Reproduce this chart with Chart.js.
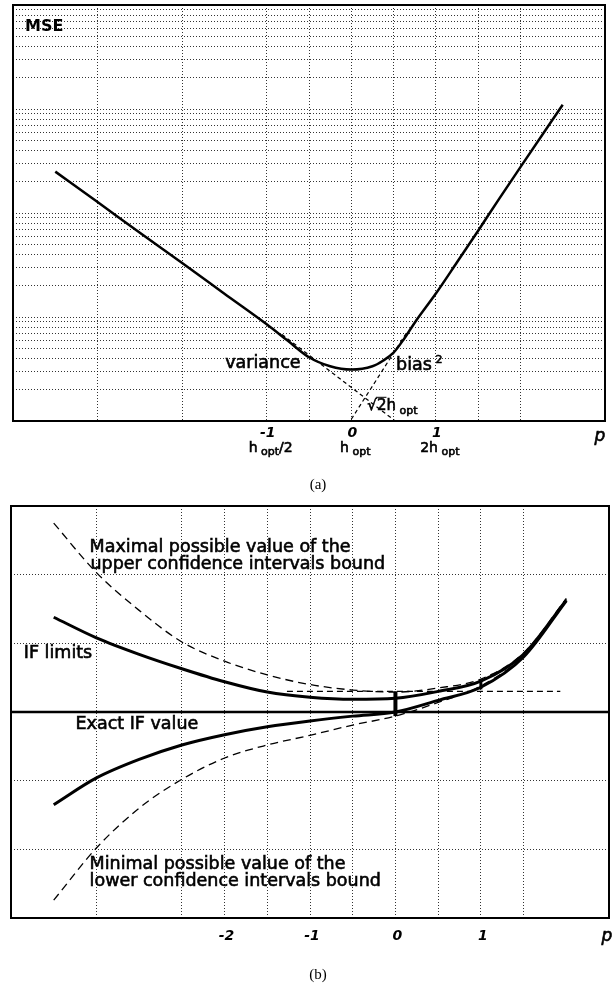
<!DOCTYPE html>
<html>
<head>
<meta charset="utf-8">
<script src="https://cdn.jsdelivr.net/npm/chart.js@4.4.0/dist/chart.umd.min.js"></script>
<style>
body { margin:0; background:#fff; width:613px; height:987px; position:relative; overflow:hidden; }
canvas { position:absolute; left:0; }
#chartA { top:0; }
#chartB { top:495px; }
</style>
</head>
<body>
<canvas id="chartA" width="613" height="495"></canvas>
<canvas id="chartB" width="613" height="492"></canvas>
<script>
// ---- data (a) : MSE against p = log2(h / h_opt), log scale ----
const mseP   = [-3.5, -3, -2.5, -2, -1.5, -1, -0.75, -0.5, -0.25, 0, 0.25, 0.375, 0.5, 0.625, 0.75, 1, 1.25, 1.5, 1.75, 2, 2.5];
const mseVal = [125, 63.7, 32.3, 16.5, 8.38, 4.26, 2.95, 2.05, 1.68, 1.56, 1.68, 1.90, 2.27, 3.09, 4.41, 8.4, 16.8, 33.8, 68.7, 138, 550];
const varP   = [-0.82, 0.52];
const varVal = [3.4, 0.5];
const biasP   = [0, 0.66];
const biasVal = [0.52, 3.6];
const xGridA = [-3, -2, -1, -0.5, 0, 0.5, 1, 1.5, 2];
const yGridA = [1, 1.5, 2, 2.5, 3, 3.5, 4, 4.5, 5, 10, 15, 20, 25, 30, 35, 40, 45, 50,
                100, 150, 200, 250, 300, 350, 400, 450, 500, 1000, 1500, 2000, 2500, 3000, 3500, 4000, 4500];
const tickA    = [-1, 0, 1];
const tickATop = ['-1', '0', '1'];
const tickABot = [['h', 'opt', '/2'], ['h', 'opt', ''], ['2h', 'opt', '']];

// ---- data (b) : IF estimate bounds ----
const bP       = [-4, -3.5, -3, -2.5, -2, -1.5, -1, -0.5, 0, 0.5, 1, 1.5, 2];
const ifUpper  = [1.38, 1.08, 0.84, 0.63, 0.44, 0.29, 0.215, 0.185, 0.20, 0.30, 0.45, 0.84, 1.63];
const maxUpper = [2.75, 2.03, 1.48, 1.02, 0.74, 0.54, 0.40, 0.32, 0.29, 0.35, 0.48, 0.86, 1.65];
const ifLower  = [-1.35, -0.96, -0.69, -0.48, -0.33, -0.215, -0.13, -0.06, 0.0, 0.17, 0.36, 0.80, 1.62];
const minLower = [-2.74, -1.98, -1.40, -0.98, -0.67, -0.48, -0.34, -0.19, -0.06, 0.14, 0.38, 0.82, 1.65];
const exactP   = [-4.5, 2.5];
const exactVal = [0, 0];
const levelP   = [-1.27, 1.93];
const levelVal = [0.30, 0.30];
const bar0Val  = [-0.06, 0.30];
const bar1Val  = [0.33, 0.47];
const xGridB = [-3.5, -2.5, -2, -1.5, -1, -0.5, 0, 0.5, 1, 1.5];
const yGridB = [-2, -1, 1, 2];
const tickB  = [-2, -1, 0, 1];

const FONT = '"DejaVu Sans", sans-serif';

function pts(xs, ys) { return xs.map((x, i) => ({ x: x, y: ys[i] })); }

function setFont(ctx, size, style) { ctx.font = (style || '') + ' ' + size + 'px ' + FONT; }

// draw a run of text pieces: [text, size, dy, style]; heavy adds a thin outline like the scan
function drawRun(ctx, parts, x, y, align, heavy) {
  let w = 0;
  parts.forEach(p => { setFont(ctx, p[1], p[3]); w += ctx.measureText(p[0]).width; });
  let cx = align === 'center' ? x - w / 2 : (align === 'right' ? x - w : x);
  parts.forEach(p => {
    setFont(ctx, p[1], p[3]);
    ctx.textAlign = 'left';
    ctx.fillText(p[0], cx, y + (p[2] || 0));
    if (heavy) {
      ctx.lineWidth = 0.6;
      ctx.strokeStyle = '#000';
      ctx.strokeText(p[0], cx, y + (p[2] || 0));
    }
    cx += ctx.measureText(p[0]).width;
  });
  return cx;
}

const frame = {
  id: 'frame',
  afterDatasetsDraw(chart) {
    const { ctx, chartArea: a } = chart;
    ctx.save();
    ctx.lineWidth = 2;
    ctx.strokeStyle = '#000';
    ctx.strokeRect(a.left, a.top, a.right - a.left, a.bottom - a.top);
    ctx.restore();
  }
};

function gridOpts(values) {
  return {
    afterBuildTicks: s => { s.ticks = values.map(v => ({ value: v })); },
    ticks: { display: false },
    grid: { color: 'rgba(0,0,0,0.8)', lineWidth: 1, drawTicks: false },
    border: { display: false, dash: [1, 2] }
  };
}

// ---------------- chart (a) ----------------
const labelsA = {
  id: 'labelsA',
  afterDraw(chart) {
    const { ctx, chartArea: a } = chart;
    const xs = chart.scales.x, ys = chart.scales.y;
    ctx.save();
    ctx.fillStyle = '#000';
    ctx.textBaseline = 'middle';
    drawRun(ctx, [['MSE', 16, 0, 'bold']], a.left + 12, a.top + 21.5, 'left');
    tickA.forEach((v, i) => {
      const px = xs.getPixelForValue(v);
      drawRun(ctx, [[tickATop[i], 14, 0, 'italic bold']], px + 1, a.bottom + 12, 'center');
      const b = tickABot[i];
      drawRun(ctx, [[b[0], 14, 0], [' ' + b[1], 11, 4], [b[2], 14, 0]], px + 4, a.bottom + 27, 'center', true);
    });
    drawRun(ctx, [['p', 17, 0, 'italic']], a.right - 5, a.bottom + 16, 'center', true);
    drawRun(ctx, [['variance', 17.5, 0]], xs.getPixelForValue(-0.60), ys.getPixelForValue(1.78), 'right', true);
    drawRun(ctx, [['bias', 17.5, 0], [' 2', 11, -5]], xs.getPixelForValue(0.53), ys.getPixelForValue(1.71), 'left', true);
    // sqrt(2) h_opt with the radical bar over the 2
    const sx = xs.getPixelForValue(0.19), sy = ys.getPixelForValue(0.70);
    const afterRoot = drawRun(ctx, [['\u221A', 15, 0]], sx, sy, 'left', true);
    const after2 = drawRun(ctx, [['2', 15, 0]], afterRoot, sy, 'left', true);
    drawRun(ctx, [['h', 15, 0], [' opt', 11, 5]], after2, sy, 'left', true);
    ctx.lineWidth = 1;
    ctx.beginPath();
    ctx.moveTo(afterRoot - 1, sy - 8.5);
    ctx.lineTo(after2, sy - 8.5);
    ctx.stroke();
    ctx.font = '15px "Liberation Serif", serif';
    ctx.textAlign = 'center';
    ctx.fillText('(a)', 318, a.bottom + 64);
    ctx.restore();
  }
};

new Chart(document.getElementById('chartA'), {
  type: 'line',
  data: {
    datasets: [
      { data: pts(mseP, mseVal), borderColor: '#000', borderWidth: 2.5, pointRadius: 0, cubicInterpolationMode: 'monotone' },
      { data: pts(varP, varVal), borderColor: '#000', borderWidth: 1.2, borderDash: [4, 3], pointRadius: 0 },
      { data: pts(biasP, biasVal), borderColor: '#000', borderWidth: 1.2, borderDash: [4, 3], pointRadius: 0 }
    ]
  },
  options: {
    responsive: false,
    animation: false,
    layout: { autoPadding: false, padding: { left: 13, top: 5, right: 8, bottom: 74 } },
    plugins: { legend: { display: false }, tooltip: { enabled: false } },
    scales: {
      x: Object.assign({ type: 'linear', min: -4, max: 3 }, gridOpts(xGridA)),
      y: Object.assign({ type: 'logarithmic', min: 0.5, max: 5000 }, gridOpts(yGridA))
    }
  },
  plugins: [frame, labelsA]
});

// ---------------- chart (b) ----------------
const labelsB = {
  id: 'labelsB',
  afterDraw(chart) {
    const { ctx, chartArea: a } = chart;
    const xs = chart.scales.x, ys = chart.scales.y;
    const at = (text, x, y) => drawRun(ctx, [[text, 17.5, 0]], xs.getPixelForValue(x), ys.getPixelForValue(y), 'left', true);
    ctx.save();
    ctx.fillStyle = '#000';
    ctx.textBaseline = 'middle';
    at('Maximal possible value of the', -3.58, 2.39);
    at('upper confidence intervals bound', -3.57, 2.15);
    at('IF limits', -4.35, 0.85);
    at('Exact IF value', -3.745, -0.18);
    at('Minimal possible value of the', -3.58, -2.22);
    at('lower confidence intervals bound', -3.58, -2.47);
    tickB.forEach(v => {
      drawRun(ctx, [[String(v), 14, 0, 'italic bold']], xs.getPixelForValue(v) + 2, a.bottom + 18, 'center');
    });
    drawRun(ctx, [['p', 17, 0, 'italic']], a.right - 2, a.bottom + 19, 'center', true);
    ctx.font = '15px "Liberation Serif", serif';
    ctx.textAlign = 'center';
    ctx.fillText('(b)', 318, a.bottom + 57);
    ctx.restore();
  }
};

const solid = (d, w) => ({ data: d, borderColor: '#000', borderWidth: w, pointRadius: 0, cubicInterpolationMode: 'monotone' });
const dashed = (d, w, dash) => ({ data: d, borderColor: '#000', borderWidth: w, borderDash: dash, pointRadius: 0, cubicInterpolationMode: 'monotone' });

new Chart(document.getElementById('chartB'), {
  type: 'line',
  data: {
    datasets: [
      solid(pts(exactP, exactVal), 2.5),
      solid(pts(bP, ifUpper), 3),
      solid(pts(bP, ifLower), 3),
      dashed(pts(bP, maxUpper), 1.3, [8, 5]),
      dashed(pts(bP, minLower), 1.3, [8, 5]),
      dashed(pts(levelP, levelVal), 1.3, [6, 4]),
      solid(pts([0, 0], bar0Val), 4),
      solid(pts([1, 1], bar1Val), 3)
    ]
  },
  options: {
    responsive: false,
    animation: false,
    layout: { autoPadding: false, padding: { left: 11, top: 11, right: 4, bottom: 69 } },
    plugins: { legend: { display: false }, tooltip: { enabled: false } },
    scales: {
      x: Object.assign({ type: 'linear', min: -4.5, max: 2.5 }, gridOpts(xGridB)),
      y: Object.assign({ type: 'linear', min: -3, max: 3 }, gridOpts(yGridB))
    }
  },
  plugins: [frame, labelsB]
});
</script>
</body>
</html>
